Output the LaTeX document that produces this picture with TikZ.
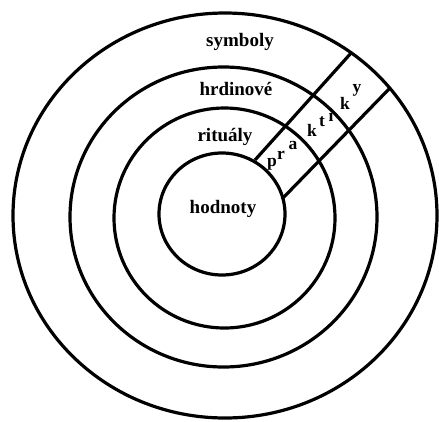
\documentclass[tikz,border=0pt]{standalone}
\usepackage{fontspec}
\setmainfont{Liberation Serif}
\usepackage{tikz}
\usetikzlibrary{positioning}

\begin{document}
\begin{tikzpicture}[
  x=1pt, y=-1pt,
  ring/.style={draw=black, line width=3.2pt},
  strip/.style={draw=black, line width=3.2pt},
  layer/.style={font=\fontsize{19}{19}\selectfont\bfseries, inner sep=0pt},
  glyph/.style={font=\fontsize{17.5}{17.5}\selectfont\bfseries, inner sep=0pt},
]
  \useasboundingbox (0,0) rectangle (439,421);

  % the four layers
  \draw[ring] (225,215.5) ellipse (212 and 202.5);
  \draw[ring] (223.5,217) ellipse (153.5 and 150);
  \draw[ring] (224.5,218) ellipse (110.5 and 110);
  \draw[ring] (222,214) ellipse (63 and 61);

  \node[layer] (symboly)   at (240,42)  {symboly};
  \node[layer] (hrdinove)  at (236,89)  {hrdinové};
  \node[layer] (ritualy)   at (225,137) {rituály};
  \node[layer] (hodnoty)   at (223,209) {hodnoty};

  % praktiky
  \coordinate (upin)   at (255,160);
  \coordinate (upout)  at (352,52);
  \coordinate (lowin)  at (282,199);
  \coordinate (lowout) at (390,88);
  \draw[strip] (upin) -- (upout);
  \draw[strip] (lowin) -- (lowout);

  \foreach \ch/\px/\py [count=\i] in {p/272/164, r/281/155, a/293/145, k/312/130,
                                     t/322/122, i/331/115, k/345/103, y/357/90}
    \node[glyph] (g\i) at (\px,\py) {\ch};
\end{tikzpicture}
\end{document}
